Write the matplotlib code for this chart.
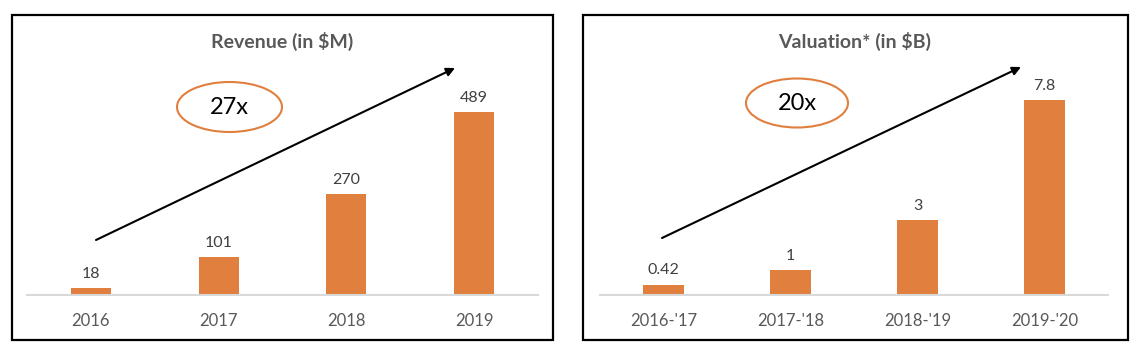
import matplotlib
matplotlib.use("Agg")
import matplotlib.pyplot as plt
from matplotlib.patches import Rectangle, Ellipse, FancyArrowPatch

plt.rcParams['font.family'] = ['Lato', 'DejaVu Sans']

rev_years = ["2016", "2017", "2018", "2019"]
rev_values = [18, 101, 270, 489]
rev_labels = ["18", "101", "270", "489"]

val_years = ["2016-'17", "2017-'18", "2018-'19", "2019-'20"]
val_values = [0.42, 1, 3, 7.8]
val_labels = ["0.42", "1", "3", "7.8"]

W, H = 1138, 352
fig = plt.figure(figsize=(W / 100, H / 100), dpi=100)
BAR = "#E07F3E"
GRAY = "#595959"

def px(x, y):
    return (x / W, 1 - y / H)

def panel(x0, x1, ytop_lim, cats, vals, labels, title, title_x, mult, ell, arrow, border):
    ybase = 295
    ytop = 60
    ax = fig.add_axes([x0 / W, 1 - ybase / H, (x1 - x0) / W, (ybase - ytop) / H])
    ax.bar(range(len(cats)), vals, width=0.315, color=BAR, zorder=2)
    ax.set_xlim(-0.5, 3.5)
    ax.set_ylim(0, ytop_lim)
    for i, (v, l) in enumerate(zip(vals, labels)):
        ax.annotate(l, (i, v), xytext=(0, 7), textcoords='offset pixels',
                    ha='center', va='bottom', fontsize=11.5, color="#404040")
    ax.set_xticks(range(len(cats)))
    ax.set_xticklabels(cats, fontsize=12, color=GRAY)
    ax.tick_params(axis='x', length=0, pad=13)
    ax.set_yticks([])
    for s in ['top', 'right', 'left']:
        ax.spines[s].set_visible(False)
    ax.spines['bottom'].set_color("#D9D9D9")
    ax.spines['bottom'].set_linewidth(1.5)
    ax.patch.set_alpha(0)
    # title
    fig.text(*px(title_x, 41), title, ha='center', va='center', fontsize=14,
             fontweight='bold', color=GRAY)
    # ellipse and multiplier
    cx, cy, ew, eh = ell
    e = Ellipse(px(cx, cy), ew / W, eh / H, transform=fig.transFigure,
                fill=False, edgecolor=BAR, linewidth=1.5)
    fig.add_artist(e)
    fig.text(*px(cx, cy), mult, ha='center', va='center', fontsize=17, color='black')
    # arrow
    (ax0, ay0), (ax1, ay1) = arrow
    a = FancyArrowPatch(px(ax0, ay0), px(ax1, ay1), transform=fig.transFigure,
                        arrowstyle='-|>,head_length=5,head_width=2.5',
                        color='black', linewidth=1.5, shrinkA=0, shrinkB=0)
    fig.add_artist(a)
    # border
    bx0, by0, bx1, by1 = border
    r = Rectangle(px(bx0, by1), (bx1 - bx0) / W, (by1 - by0) / H,
                  transform=fig.transFigure, fill=False, edgecolor='black', linewidth=1.6)
    fig.add_artist(r)

panel(27, 538, 628, rev_years, rev_values, rev_labels, "Revenue (in $M)", 282, "27x",
      (229.5, 107, 105, 50), ((96, 240), (455, 68)), (12, 15, 553, 340))
panel(600, 1108, 9.4, val_years, val_values, val_labels, "Valuation* (in $B)", 855, "20x",
      (797, 103, 102, 49), ((662, 238), (1021, 67)), (583, 15, 1128, 340))

fig.savefig("out.png", dpi=100)
